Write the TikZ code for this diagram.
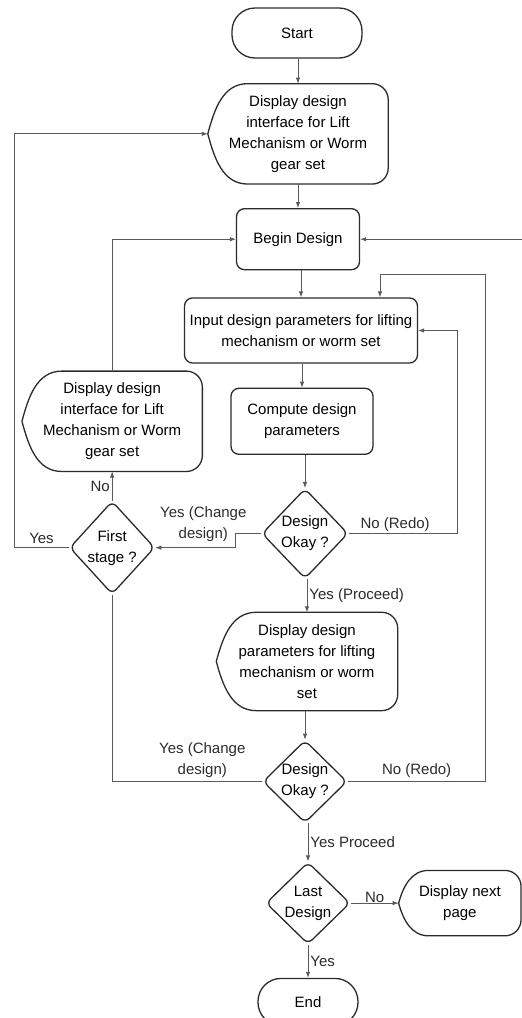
\documentclass[tikz,border=0pt]{standalone}
\usepackage{fontspec}
\setmainfont{Liberation Sans}
\usetikzlibrary{positioning,arrows.meta,shapes.geometric,calc}
\definecolor{fline}{HTML}{2B2B2B}
\definecolor{cline}{HTML}{5A5A5A}
\newcommand{\dispoutline}[2][40]{%
  \draw[fline, line width=1.3pt, line cap=round] ([xshift=#1]#2.south west) to[out=180,in=-75] (#2.west)
    to[out=75,in=180] ([xshift=#1]#2.north west) [rounded corners=16pt]-- (#2.north east) -- (#2.south east)
    -- ([xshift=#1]#2.south west);}

\begin{document}
\begin{tikzpicture}[x=1pt, y=1pt, font=\fontsize{15}{21}\selectfont,
  term/.style={draw=fline, line width=1.3pt, rounded corners=23pt, align=center},
  proc/.style={draw=fline, line width=1.3pt, rounded corners=8pt, align=center, inner sep=3pt},
  dec/.style={diamond, draw=fline, line width=1.3pt, rounded corners=6pt, align=center, inner sep=0pt,
    minimum width=86pt, minimum height=90pt},
  disp/.style={align=center, minimum width=180pt, minimum height=100pt, inner sep=0pt},
  arr/.style={-{Latex[length=6pt,width=4.5pt]}, cline, line width=0.8pt},
  ln/.style={cline, line width=0.8pt},
  lab/.style={inner sep=2pt, align=center, text=fline}]
\useasboundingbox (0,0) rectangle (522,-1018);
% main column
\node[term, minimum width=130pt, minimum height=50pt] (start) at (297,-33) {Start};
\node[disp, below=25pt of start, xshift=1pt] (disp1) {Display design\\ interface for Lift\\ Mechanism or Worm\\ gear set};
\node[proc, minimum width=123pt, minimum height=61pt, below=24pt of disp1] (begin) {Begin Design};
\node[proc, minimum width=233pt, minimum height=65pt, below=27pt of begin, xshift=3pt] (input) {Input design parameters for lifting\\ mechanism or worm set};
\node[proc, minimum width=142pt, minimum height=66pt, below=24pt of input, xshift=1pt] (comp) {Compute design\\ parameters};
\node[dec, below=33pt of comp, xshift=3pt] (ok1) {Design\\ Okay ?};
\node[disp, minimum width=181pt, minimum height=98pt, below=33pt of ok1, xshift=2pt] (disp3) {Display design\\ parameters for lifting\\ mechanism or worm\\ set};
\node[dec, minimum width=84pt, minimum height=82pt, below=29pt of disp3, xshift=-2pt] (ok2) {Design\\ Okay ?};
\node[dec, minimum width=84pt, minimum height=82pt, below=38pt of ok2, xshift=3pt] (last) {Last\\ Design};
\node[term, minimum width=100pt, minimum height=47pt, below=33pt of last] (end) {End};
% side nodes
\node[disp, left=28pt of comp] (disp2) {Display design\\ interface for Lift\\ Mechanism or Worm\\ gear set};
\node[dec, minimum width=85pt, minimum height=93pt, below=29pt of disp2] (first) {First\\ stage ?};
\node[disp, minimum width=122pt, minimum height=65pt, right=48pt of last] (nextpg) {Display next\\ page};
\foreach \n in {disp1,disp2,disp3} {\dispoutline{\n}}
\dispoutline[30]{nextpg}
\path (begin.east) -- ++(163,0) coordinate (backin);

% straight flow
\foreach \a/\b in {start/disp1, disp1/begin, begin/input, input/comp, comp/ok1, disp3/ok2}
  \draw[arr] (\b |- \a.south) -- (\b);
\draw[arr] (disp3 |- ok1.south) -- node[lab, right] {Yes (Proceed)} (disp3);
\draw[arr] (last |- ok2.south) -- node[lab, right] {Yes Proceed} (last);
\draw[arr] (end |- last.south) -- node[lab, right] {Yes} (end);
\draw[arr] (last) -- node[lab, above, inner sep=0.5pt] {No} (nextpg);

% loops
\draw[arr] (ok1.west) -- ++(-26,0) |- node[lab, pos=0.7, above, yshift=4pt] {Yes (Change\\ design)} (first.east);
\draw[arr] (ok1.east) -- node[lab, above, xshift=-8pt] {No (Redo)} ++(109,0) |- (input.east);
\draw[arr] (disp2 |- first.north) -- node[lab, left] {No} (disp2);
\draw[arr] (first.west) -- node[lab, above, yshift=2pt] {Yes} ++(-55,0) |- (disp1.west);
\draw[arr] (disp2.north) |- (begin.west);
\draw[ln] (ok2.west) -- node[lab, pos=0.4, above, yshift=2pt] {Yes (Change\\ design)} (first.south |- ok2.west) -- (first.south);
\draw[arr] (ok2.east) -- node[lab, above, yshift=2pt] {No (Redo)} ++(138,0) |- ([shift={(79,23)}]input.north) -- ([xshift=79]input.north);
\draw[arr] (backin) -- (begin.east);
\end{tikzpicture}
\end{document}
